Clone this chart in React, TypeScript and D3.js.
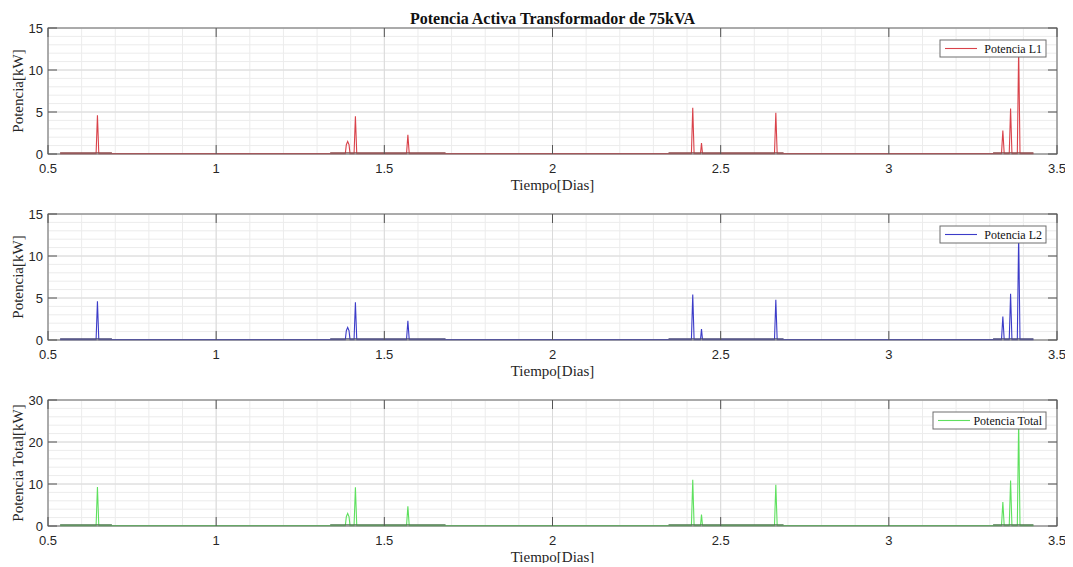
import React, { useEffect, useRef } from 'react';
import * as d3 from 'd3';

const xTicks = [0.5, 1, 1.5, 2, 2.5, 3, 3.5];
const yTicksPhase = [0, 5, 10, 15];
const yTicksTotal = [0, 10, 20, 30];

// dense-data stretches that look darker along the baseline
const denseRanges: [number, number][] = [[0.536, 0.69], [1.339, 1.682], [2.345, 2.687], [3.31, 3.43]];

const l1Points: [number, number][] = [
  [0.536, 0.05], [0.643, 0.05], [0.647, 4.6], [0.651, 0.05],
  [1.384, 0.05], [1.387, 1.1], [1.391, 1.5], [1.395, 1.1], [1.398, 0.05],
  [1.410, 0.05], [1.414, 4.5], [1.418, 0.05],
  [1.566, 0.05], [1.570, 2.3], [1.574, 0.05],
  [2.413, 0.05], [2.417, 5.5], [2.421, 0.05],
  [2.440, 0.05], [2.443, 1.3], [2.446, 0.05],
  [2.660, 0.05], [2.664, 4.9], [2.668, 0.05],
  [3.335, 0.05], [3.339, 2.8], [3.343, 0.05],
  [3.358, 0.05], [3.362, 5.4], [3.366, 0.05],
  [3.382, 0.05], [3.386, 12.6], [3.390, 0.05],
  [3.43, 0.05],
];

const l2Points: [number, number][] = [
  [0.536, 0.05], [0.643, 0.05], [0.647, 4.6], [0.651, 0.05],
  [1.384, 0.05], [1.387, 1.1], [1.391, 1.5], [1.395, 1.1], [1.398, 0.05],
  [1.410, 0.05], [1.414, 4.5], [1.418, 0.05],
  [1.566, 0.05], [1.570, 2.3], [1.574, 0.05],
  [2.413, 0.05], [2.417, 5.4], [2.421, 0.05],
  [2.440, 0.05], [2.443, 1.3], [2.446, 0.05],
  [2.660, 0.05], [2.664, 4.8], [2.668, 0.05],
  [3.335, 0.05], [3.339, 2.8], [3.343, 0.05],
  [3.358, 0.05], [3.362, 5.5], [3.366, 0.05],
  [3.382, 0.05], [3.386, 12.5], [3.390, 0.05],
  [3.43, 0.05],
];

const totalPoints: [number, number][] = [
  [0.536, 0.1], [0.643, 0.1], [0.647, 9.3], [0.651, 0.1],
  [1.384, 0.1], [1.387, 2.2], [1.391, 3.0], [1.395, 2.2], [1.398, 0.1],
  [1.410, 0.1], [1.414, 9.2], [1.418, 0.1],
  [1.566, 0.1], [1.570, 4.7], [1.574, 0.1],
  [2.413, 0.1], [2.417, 11], [2.421, 0.1],
  [2.440, 0.1], [2.443, 2.7], [2.446, 0.1],
  [2.660, 0.1], [2.664, 9.8], [2.668, 0.1],
  [3.335, 0.1], [3.339, 5.7], [3.343, 0.1],
  [3.358, 0.1], [3.362, 10.8], [3.366, 0.1],
  [3.382, 0.1], [3.386, 25], [3.390, 0.1],
  [3.43, 0.1],
];

const panels = [
  { top: 28, yMax: 15, yTicks: yTicksPhase, minorStep: 1, points: l1Points, color: '#d9424a', dense: '#8c4a4a', ylabel: 'Potencia[kW]', legend: 'Potencia L1', legendW: 106 },
  { top: 214, yMax: 15, yTicks: yTicksPhase, minorStep: 1, points: l2Points, color: '#3c3cc8', dense: '#4a4a7a', ylabel: 'Potencia[kW]', legend: 'Potencia L2', legendW: 106 },
  { top: 400, yMax: 30, yTicks: yTicksTotal, minorStep: 2, points: totalPoints, color: '#5ee05e', dense: '#4e7a4e', ylabel: 'Potencia Total[kW]', legend: 'Potencia Total', legendW: 113 },
];

const App = () => {
  const ref = useRef<SVGSVGElement>(null);

  useEffect(() => {
    const width = 1073;
    const height = 567;
    const left = 48;
    const right = 1057;
    const plotH = 126;

    const svg = d3.select(ref.current);
    svg.selectAll('*').remove();
    svg.attr('width', width).attr('height', height);
    svg.append('rect').attr('width', width).attr('height', height).attr('fill', 'white');

    svg.append('text')
      .attr('x', (left + right) / 2)
      .attr('y', 24)
      .attr('text-anchor', 'middle')
      .style('font-family', '"Liberation Serif", "Times New Roman", serif')
      .style('font-weight', 'bold')
      .style('font-size', '16px')
      .attr('fill', '#111')
      .text('Potencia Activa Transformador de 75kVA');

    const x = d3.scaleLinear().domain([0.5, 3.5]).range([left, right]);
    const minorX = d3.range(0.5, 3.5001, 0.1);

    panels.forEach((p) => {
      const top = p.top;
      const bottom = top + plotH;
      const y = d3.scaleLinear().domain([0, p.yMax]).range([bottom, top]);
      const g = svg.append('g');

      // minor grid
      g.selectAll('.mx').data(minorX).enter().append('line')
        .attr('x1', (d) => x(d)).attr('x2', (d) => x(d))
        .attr('y1', top).attr('y2', bottom)
        .attr('stroke', '#ececec').attr('stroke-width', 1);
      g.selectAll('.my').data(d3.range(0, p.yMax + 0.001, p.minorStep)).enter().append('line')
        .attr('x1', left).attr('x2', right)
        .attr('y1', (d) => y(d)).attr('y2', (d) => y(d))
        .attr('stroke', '#ececec').attr('stroke-width', 1);

      // major grid
      g.selectAll('.gx').data(xTicks).enter().append('line')
        .attr('x1', (d) => x(d)).attr('x2', (d) => x(d))
        .attr('y1', top).attr('y2', bottom)
        .attr('stroke', '#dadada').attr('stroke-width', 1);
      g.selectAll('.gy').data(p.yTicks).enter().append('line')
        .attr('x1', left).attr('x2', right)
        .attr('y1', (d) => y(d)).attr('y2', (d) => y(d))
        .attr('stroke', '#dadada').attr('stroke-width', 1);

      // data line
      const line = d3.line<[number, number]>().x((d) => x(d[0])).y((d) => y(d[1]));
      g.append('path')
        .datum(p.points)
        .attr('d', line)
        .attr('fill', 'none')
        .attr('stroke', p.color)
        .attr('stroke-width', 1.1);

      // dense baseline stretches
      g.selectAll('.dense').data(denseRanges).enter().append('line')
        .attr('x1', (d) => x(d[0])).attr('x2', (d) => x(d[1]))
        .attr('y1', y(p.yMax / 100)).attr('y2', y(p.yMax / 100))
        .attr('stroke', p.dense).attr('stroke-opacity', 0.75).attr('stroke-width', 1.6);

      // box
      g.append('rect')
        .attr('x', left).attr('y', top)
        .attr('width', right - left).attr('height', plotH)
        .attr('fill', 'none').attr('stroke', '#6e6e6e').attr('stroke-width', 1);

      // inward ticks
      const tl = 9;
      g.selectAll('.tx').data(xTicks).enter().append('path')
        .attr('d', (d) => `M${x(d)},${bottom}v${-tl}M${x(d)},${top}v${tl}`)
        .attr('stroke', '#555').attr('stroke-width', 1);
      g.selectAll('.ty').data(p.yTicks).enter().append('path')
        .attr('d', (d) => `M${left},${y(d)}h${tl}M${right},${y(d)}h${-tl}`)
        .attr('stroke', '#555').attr('stroke-width', 1);

      // tick labels
      g.selectAll('.lx').data(xTicks).enter().append('text')
        .attr('x', (d) => x(d)).attr('y', bottom + 19)
        .attr('text-anchor', 'middle')
        .style('font-family', '"Liberation Sans", Arial, sans-serif')
        .style('font-size', '13px')
        .attr('fill', '#262626')
        .text((d) => String(d));
      g.selectAll('.ly').data(p.yTicks).enter().append('text')
        .attr('x', left - 5).attr('y', (d) => y(d) + 5)
        .attr('text-anchor', 'end')
        .style('font-family', '"Liberation Sans", Arial, sans-serif')
        .style('font-size', '13px')
        .attr('fill', '#262626')
        .text((d) => String(d));

      // axis labels
      g.append('text')
        .attr('x', (left + right) / 2).attr('y', bottom + 36)
        .attr('text-anchor', 'middle')
        .style('font-family', '"Liberation Serif", "Times New Roman", serif')
        .style('font-size', '15px')
        .attr('fill', '#262626')
        .text('Tiempo[Dias]');
      g.append('text')
        .attr('transform', `translate(23,${(top + bottom) / 2}) rotate(-90)`)
        .attr('text-anchor', 'middle')
        .style('font-family', '"Liberation Serif", "Times New Roman", serif')
        .style('font-size', '15px')
        .attr('fill', '#262626')
        .text(p.ylabel);

      // legend
      const lx = right - 11 - p.legendW;
      const ly = top + 12;
      const lg = g.append('g').attr('transform', `translate(${lx},${ly})`);
      lg.append('rect')
        .attr('width', p.legendW).attr('height', 17)
        .attr('fill', 'white').attr('stroke', '#6e6e6e').attr('stroke-width', 1);
      lg.append('line')
        .attr('x1', 5).attr('x2', 37).attr('y1', 8.5).attr('y2', 8.5)
        .attr('stroke', p.color).attr('stroke-width', 1.1);
      lg.append('text')
        .attr('x', p.legendW - 4).attr('y', 12.5)
        .attr('text-anchor', 'end')
        .style('font-family', '"Liberation Serif", "Times New Roman", serif')
        .style('font-size', '12px')
        .attr('fill', '#111')
        .text(p.legend);
    });
  }, []);

  return (
    <div style={{ margin: -8 }}>
      <svg ref={ref}></svg>
    </div>
  );
};

export default App;
